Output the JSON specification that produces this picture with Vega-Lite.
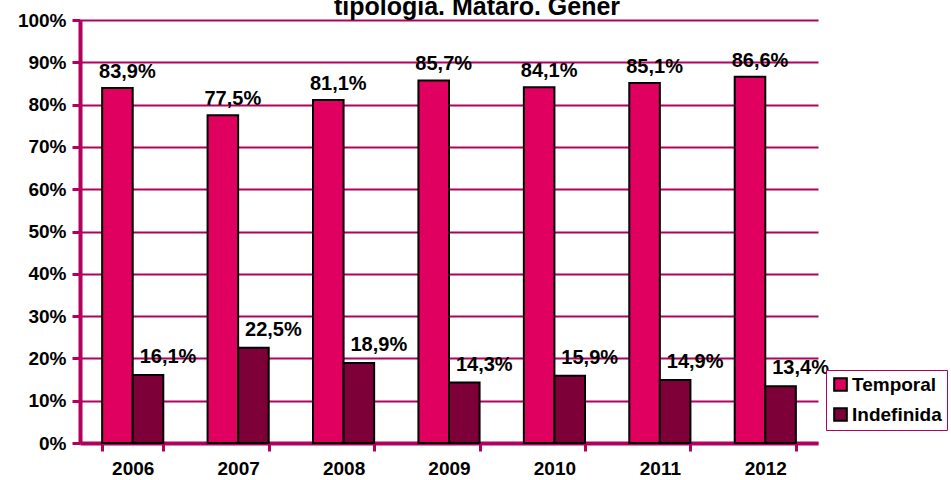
{
  "$schema": "https://vega.github.io/schema/vega-lite/v6.json",
  "width": 738,
  "height": 423,
  "autosize": {"type": "none"},
  "padding": {"left": 80, "top": 20, "right": 133, "bottom": 37},
  "background": "white",
  "title": {
    "text": "tipologia. Mataró. Gener",
    "font": "Liberation Sans",
    "fontSize": 25,
    "fontWeight": "bold",
    "color": "black",
    "anchor": "middle",
    "offset": -9,
    "dx": 28
  },
  "data": {
    "values": [
      {"year": "2006", "tipus": "Temporal", "value": 0.839},
      {"year": "2006", "tipus": "Indefinida", "value": 0.161},
      {"year": "2007", "tipus": "Temporal", "value": 0.775},
      {"year": "2007", "tipus": "Indefinida", "value": 0.225},
      {"year": "2008", "tipus": "Temporal", "value": 0.811},
      {"year": "2008", "tipus": "Indefinida", "value": 0.189},
      {"year": "2009", "tipus": "Temporal", "value": 0.857},
      {"year": "2009", "tipus": "Indefinida", "value": 0.143},
      {"year": "2010", "tipus": "Temporal", "value": 0.841},
      {"year": "2010", "tipus": "Indefinida", "value": 0.159},
      {"year": "2011", "tipus": "Temporal", "value": 0.851},
      {"year": "2011", "tipus": "Indefinida", "value": 0.149},
      {"year": "2012", "tipus": "Temporal", "value": 0.866},
      {"year": "2012", "tipus": "Indefinida", "value": 0.134}
    ]
  },
  "encoding": {
    "x": {
      "field": "year",
      "type": "nominal",
      "scale": {"paddingInner": 0.42, "paddingOuter": 0.21},
      "axis": {
        "title": null,
        "labelAngle": 0,
        "labelFont": "Liberation Sans",
        "labelFontSize": 19,
        "labelFontWeight": "bold",
        "labelColor": "black",
        "labelPadding": 8,
        "domainColor": "#B3005C",
        "domainWidth": 4,
        "tickColor": "#B3005C",
        "tickWidth": 3,
        "tickSize": 8,
        "tickBand": "extent",
        "grid": false
      }
    },
    "xOffset": {"field": "tipus", "type": "nominal", "sort": ["Temporal", "Indefinida"], "scale": {"paddingInner": 0}},
    "y": {
      "field": "value",
      "type": "quantitative",
      "scale": {"domain": [0, 1]},
      "axis": {
        "title": null,
        "values": [0, 0.1, 0.2, 0.3, 0.4, 0.5, 0.6, 0.7, 0.8, 0.9, 1],
        "format": ".0%",
        "labelFont": "Liberation Sans",
        "labelFontSize": 19,
        "labelFontWeight": "bold",
        "labelColor": "black",
        "labelPadding": 6,
        "domainColor": "#B3005C",
        "domainWidth": 4,
        "tickColor": "#B3005C",
        "tickWidth": 3,
        "tickSize": 8,
        "grid": true,
        "gridColor": "#B3005C",
        "gridWidth": 2
      }
    }
  },
  "layer": [
    {
      "mark": {"type": "bar", "stroke": "black", "strokeWidth": 2},
      "encoding": {
        "color": {
          "field": "tipus",
          "type": "nominal",
          "sort": ["Temporal", "Indefinida"],
          "scale": {"domain": ["Temporal", "Indefinida"], "range": ["#E0005F", "#7D0038"]},
          "legend": {
            "title": null,
            "orient": "none",
            "legendX": 746,
            "legendY": 350,
            "direction": "vertical",
            "symbolType": "square",
            "symbolSize": 160,
            "symbolStrokeColor": "black",
            "symbolStrokeWidth": 2,
            "labelFont": "Liberation Sans",
            "labelFontSize": 19,
            "labelFontWeight": "bold",
            "labelColor": "black",
            "labelOffset": 2,
            "rowPadding": 9,
            "padding": 5,
            "strokeColor": "#B3005C",
            "fillColor": "white"
          }
        }
      }
    },
    {
      "transform": [{"filter": "datum.tipus == 'Temporal'"}],
      "mark": {"type": "text", "baseline": "bottom", "dy": -6, "dx": 10, "font": "Liberation Sans", "fontSize": 20, "fontWeight": "bold", "color": "black"},
      "encoding": {"text": {"field": "value", "type": "quantitative", "format": ".1%"}}
    },
    {
      "transform": [{"filter": "datum.tipus == 'Indefinida'"}],
      "mark": {"type": "text", "baseline": "bottom", "dy": -8, "dx": 20, "font": "Liberation Sans", "fontSize": 20, "fontWeight": "bold", "color": "black"},
      "encoding": {"text": {"field": "value", "type": "quantitative", "format": ".1%"}}
    }
  ],
  "config": {
    "locale": {"number": {"decimal": ",", "thousands": ".", "grouping": [3], "currency": ["", " €"]}},
    "view": {"stroke": null}
  }
}
